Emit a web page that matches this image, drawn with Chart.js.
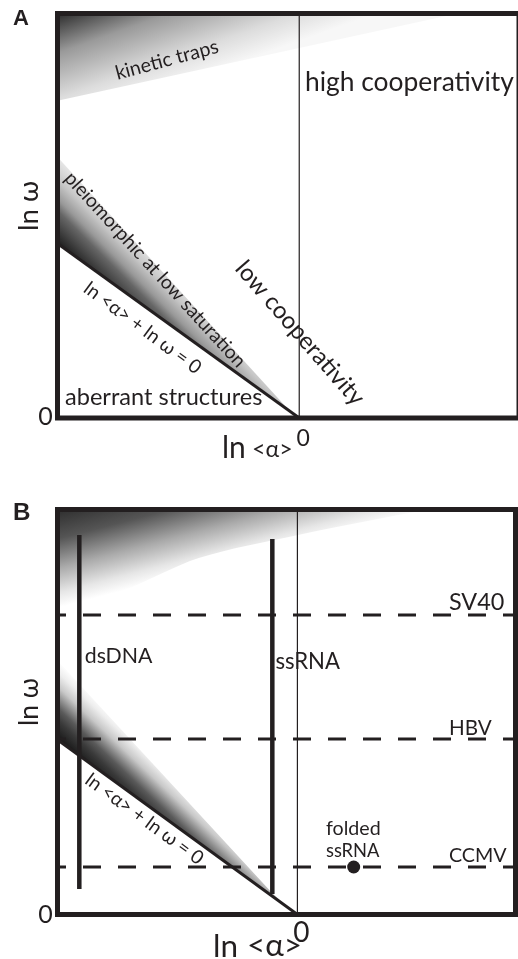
<!DOCTYPE html>
<html>
<head>
<meta charset="utf-8">
<script src="https://cdn.jsdelivr.net/npm/chart.js@4.4.1/dist/chart.umd.min.js"></script>
<style>
  html, body { margin: 0; padding: 0; overflow: hidden; background: #fff; }
  .panel { position: absolute; left: 0; width: 522px; }
  #wrapA { top: 0; height: 480px; }
  #wrapB { top: 480px; height: 479px; }
</style>
</head>
<body>
<div class="panel" id="wrapA"><canvas id="chartA"></canvas></div>
<div class="panel" id="wrapB"><canvas id="chartB"></canvas></div>
<script>
// axis ranges (schematic units) and the single labelled tick
const lnAlphaRange = [-1.1, 1.0];
const lnOmegaRange = [0, 2.55];
const tickValues = [0];

// line ln<a> + ln w = 0
const boundaryAlpha = [-1.1, 0];
const boundaryOmega = [1.1, 0];

// panel A shaded regions
const trapsAlphaA = [-1.1, 0.72];
const trapsOmegaA = [2.0, 2.55];
const pleioAlphaA = [-1.1, -1.1, -0.04];
const pleioOmegaA = [1.1, 1.646, 0.04];

// panel B shaded regions
const trapsAlphaB = [-1.1, -0.816, -0.452, 0.003, 0.594];
const trapsOmegaB = [1.916, 2.03, 2.245, 2.39, 2.55];
const pleioAlphaB = [-1.1, -1.1, -0.12, -0.05];
const pleioOmegaB = [1.1, 1.6, 0.142, 0.05];

// panel B genomes and viruses
const genomeNames = ['dsDNA', 'ssRNA'];
const genomeLnAlpha = [-1.0, -0.115];
const genomeOmegaLow = [0.16, 0.129];
const genomeOmegaHigh = [2.39, 2.364];
const virusNames = ['SV40', 'HBV', 'CCMV'];
const virusLnOmega = [1.886, 1.105, 0.299];
const foldedLnAlpha = [0.258];
const foldedLnOmega = [0.299];

const INK = '#231f20';
const FONT = 'Lato, "Noto Sans", sans-serif';

function pts(xs, ys) {
  return xs.map((x, i) => ({ x: x, y: ys[i] }));
}

function gradFill(anchor, dx, dy, stops) {
  return function (context) {
    const chart = context.chart;
    if (!chart.chartArea) return null;
    const x0 = chart.scales.x.getPixelForValue(anchor[0]);
    const y0 = chart.scales.y.getPixelForValue(anchor[1]);
    const g = chart.ctx.createLinearGradient(x0, y0, x0 + dx, y0 + dy);
    stops.forEach(s => g.addColorStop(s[0], s[1]));
    return g;
  };
}

function region(data, fill, bg, tension) {
  return {
    data: data, fill: fill, backgroundColor: bg,
    borderColor: 'rgba(0,0,0,0)', borderWidth: 0,
    pointRadius: 0, showLine: true, tension: tension || 0, order: 10
  };
}

function line(data, width, extra) {
  return Object.assign({
    data: data, borderColor: INK, borderWidth: width, fill: false,
    pointRadius: 0, showLine: true, order: 2
  }, extra || {});
}

// frame + text drawn on top of the datasets
function makeDecor(labels) {
  return {
    id: 'decor',
    afterDraw(chart) {
      const ctx = chart.ctx;
      const a = chart.chartArea;
      const xs = chart.scales.x, ys = chart.scales.y;
      ctx.save();
      ctx.strokeStyle = INK;
      ctx.lineWidth = 5;
      ctx.strokeRect(a.left, a.top, a.right - a.left, a.bottom - a.top);
      labels.forEach(it => {
        let px = it.px !== undefined ? it.px : xs.getPixelForValue(it.x);
        let py = it.py !== undefined ? it.py : ys.getPixelForValue(it.y);
        px += it.dx || 0;
        py += it.dy || 0;
        const weight = it.bold ? 'bold ' : '';
        const fam = it.family || FONT;
        let size = it.size || 16;
        if (it.width) {
          ctx.font = weight + '100px ' + fam;
          const m = ctx.measureText(it.text);
          size = 100 * it.width / (m.actualBoundingBoxLeft + m.actualBoundingBoxRight);
        }
        ctx.font = weight + size.toFixed(2) + 'px ' + fam;
        ctx.fillStyle = INK;
        ctx.textAlign = it.align || 'left';
        ctx.textBaseline = it.baseline || 'alphabetic';
        ctx.save();
        ctx.translate(px, py);
        ctx.rotate((it.angle || 0) * Math.PI / 180);
        ctx.fillText(it.text, 0, 0);
        ctx.restore();
      });
      ctx.restore();
    }
  };
}

function baseOptions(pad) {
  return {
    responsive: true,
    maintainAspectRatio: false,
    animation: false,
    layout: { padding: pad },
    plugins: { legend: { display: false }, tooltip: { enabled: false } },
    scales: {
      x: { type: 'linear', display: false, min: lnAlphaRange[0], max: lnAlphaRange[1] },
      y: { type: 'linear', display: false, min: lnOmegaRange[0], max: lnOmegaRange[1] }
    }
  };
}

function axisLabels(o) {
  const zero = tickValues[0];
  return [
    { text: String(zero), px: o.yTickX, y: zero, dy: o.yTickDy, align: 'center', size: o.tickSize },
    { text: String(zero), x: zero, y: zero, dx: 4, dy: o.xTickDy, align: 'center', size: o.xTickSize },
    { text: 'ln', px: o.lnX, py: o.titleY, width: o.lnW },
    { text: '<\u03b1>', px: o.alphaX, py: o.titleY - 1, width: o.alphaW },
    { text: 'ln \u03c9', px: 29, py: o.omegaY, angle: -90, align: 'center', baseline: 'middle', width: o.omegaW },
    { text: o.letter, px: 13, py: o.letterY, bold: true, width: 15, family: '"Liberation Sans", Arial, sans-serif' }
  ];
}

// ---------- panel A ----------
const labelsA = axisLabels({
  yTickX: 45.5, yTickDy: 7, tickSize: 25, xTickDy: 28, xTickSize: 23,
  lnX: 222, lnW: 20, alphaX: 252, alphaW: 37, titleY: 458, omegaY: 206, omegaW: 47,
  letter: 'A', letterY: 25
}).concat([
  { text: 'kinetic traps', x: -0.602, y: 2.257, angle: -15, align: 'center', baseline: 'middle', width: 104 },
  { text: 'high cooperativity', x: 0.026, y: 2.062, width: 207 },
  { text: 'aberrant structures', x: -1.066, y: 0.079, width: 196 },
  { text: 'pleiomorphic at low saturation', x: -0.656, y: 0.935, angle: 47.5, align: 'center', baseline: 'middle', width: 255 },
  { text: 'ln <\u03b1> + ln \u03c9 = 0', x: -0.713, y: 0.567, angle: 36.5, align: 'center', baseline: 'middle', width: 139 },
  { text: 'low cooperativity', x: 0.003, y: 0.535, angle: 49, align: 'center', baseline: 'middle', width: 181 }
]);

new Chart(document.getElementById('chartA'), {
  type: 'scatter',
  data: {
    datasets: [
      region(pts(trapsAlphaA, trapsOmegaA), 'end',
        gradFill([-1.1, 2.55], 36, 101, [[0, '#2b2b2b'], [0.35, '#9a9a9a'], [0.75, '#dcdcdc'], [1, '#f7f7f7']])),
      region(pts(pleioAlphaA, pleioOmegaA), 'shape',
        gradFill([-1.1, 1.1], 50, -50, [[0, '#1e1e1e'], [0.33, '#666'], [0.45, '#999'], [0.65, '#c8c8c8'], [0.9, '#ececec'], [1, '#f6f6f6']])),
      line(pts([0, 0], lnOmegaRange), 1.2),
      line(pts(boundaryAlpha, boundaryOmega), 3)
    ]
  },
  options: baseOptions({ left: 57.5, right: 3, top: 13.5, bottom: 62 }),
  plugins: [makeDecor(labelsA)]
});

// ---------- panel B ----------
const labelsB = axisLabels({
  yTickX: 45.5, yTickDy: 8, tickSize: 25, xTickDy: 27, xTickSize: 28,
  lnX: 213, lnW: 21, alphaX: 247, alphaW: 50, titleY: 477, omegaY: 222, omegaW: 45,
  letter: 'B', letterY: 40
}).concat([
  { text: genomeNames[0], x: -0.975, y: 1.583, width: 67 },
  { text: genomeNames[1], x: -0.101, y: 1.546, width: 64 },
  { text: virusNames[0], x: 0.695, y: virusLnOmega[0], dy: -5, width: 54 },
  { text: virusNames[1], x: 0.695, y: virusLnOmega[1], dy: -4, width: 41 },
  { text: virusNames[2], x: 0.695, y: virusLnOmega[2], dy: -5, width: 57 },
  { text: 'folded', x: 0.131, y: 0.5, width: 53 },
  { text: 'ssRNA', x: 0.131, y: 0.362, width: 53 },
  { text: 'ln <\u03b1> + ln \u03c9 = 0', x: -0.702, y: 0.601, angle: 36, align: 'center', baseline: 'middle', width: 139 }
]);

const virusLines = virusLnOmega.map(v =>
  line(pts(lnAlphaRange, [v, v]), 3, { borderDash: [18, 17], borderDashOffset: 9.5 }));
const genomeLines = genomeLnAlpha.map((g, i) =>
  line(pts([g, g], [genomeOmegaLow[i], genomeOmegaHigh[i]]), 4.5, { order: 1 }));

new Chart(document.getElementById('chartB'), {
  type: 'scatter',
  data: {
    datasets: [
      region(pts(trapsAlphaB, trapsOmegaB), 'end',
        gradFill([-1.1, 2.55], 24, 92, [[0, '#2e2e2e'], [0.3, '#555'], [0.6, '#aaa'], [0.85, '#e6e6e6'], [1, '#fff']]), 0.3),
      region(pts(pleioAlphaB, pleioOmegaB), 'shape',
        gradFill([-1.1, 1.1], 40, -42, [[0, '#151515'], [0.25, '#3a3a3a'], [0.4, '#5a5a5a'], [0.52, '#8a8a8a'], [0.67, '#c8c8c8'], [0.85, '#eeeeee'], [1, '#fff']])),
      line(pts([0, 0], lnOmegaRange), 1.2),
      line(pts(boundaryAlpha, boundaryOmega), 3),
      ...virusLines,
      ...genomeLines,
      { data: pts(foldedLnAlpha, foldedLnOmega), pointRadius: 6.5, pointBackgroundColor: INK,
        pointBorderWidth: 0, showLine: false, order: 0 }
    ]
  },
  options: baseOptions({ left: 57.5, right: 3, top: 29.5, bottom: 479 - 434.5 }),
  plugins: [makeDecor(labelsB)]
});
</script>
</body>
</html>
